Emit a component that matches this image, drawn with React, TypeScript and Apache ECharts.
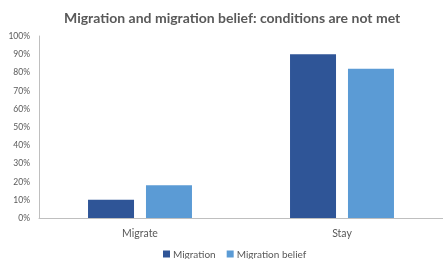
import React, { useEffect, useRef } from "react";
import * as echarts from "echarts";

const categories = ["Migrate", "Stay"];
const migration = [10, 90];
const migrationBelief = [18, 82];
const yTicks = [0, 10, 20, 30, 40, 50, 60, 70, 80, 90, 100];

export default function App() {
  const ref = useRef<HTMLDivElement>(null);
  useEffect(() => {
    document.body.style.margin = "0";
    const chart = echarts.init(ref.current!, null, { renderer: "svg" });
    chart.setOption({
      animation: false,
      title: {
        text: "Migration and migration belief: conditions are not met",
        left: 59,
        top: 5,
        textStyle: { fontFamily: "Lato", fontWeight: "bold", fontSize: 14, color: "#595959" },
      },
      legend: {
        bottom: 0,
        left: 158,
        padding: [0, 5, 0, 5],
        itemWidth: 7,
        itemHeight: 7,
        itemGap: 11,
        icon: "rect",
        textStyle: { fontFamily: "Lato", fontSize: 10, color: "#595959", padding: [0, 0, 0, -2] },
        data: ["Migration", "Migration belief"],
      },
      grid: { left: 39, right: 0, top: 36, bottom: 41 },
      xAxis: {
        type: "category",
        data: categories,
        axisLine: { lineStyle: { color: "#bfbfbf" } },
        axisTick: { show: false },
        axisLabel: { fontFamily: "Lato", fontSize: 10.5, color: "#595959", margin: 9 },
      },
      yAxis: {
        type: "value",
        min: yTicks[0],
        max: yTicks[yTicks.length - 1],
        interval: 10,
        axisLine: { show: true, lineStyle: { color: "#bfbfbf" } },
        axisTick: { show: false },
        splitLine: { show: false },
        axisLabel: { formatter: "{value}%", fontFamily: "Lato", fontSize: 8.5, color: "#595959", margin: 9 },
      },
      series: [
        {
          name: "Migration",
          type: "bar",
          data: migration,
          barWidth: 46,
          barGap: "26%",
          itemStyle: { color: "#2F5597" },
        },
        {
          name: "Migration belief",
          type: "bar",
          data: migrationBelief,
          barWidth: 46,
          itemStyle: { color: "#5B9BD5" },
        },
      ],
    });
    return () => chart.dispose();
  }, []);
  return <div ref={ref} style={{ position: "fixed", left: 0, top: 0, width: 443, height: 259 }} />;
}
